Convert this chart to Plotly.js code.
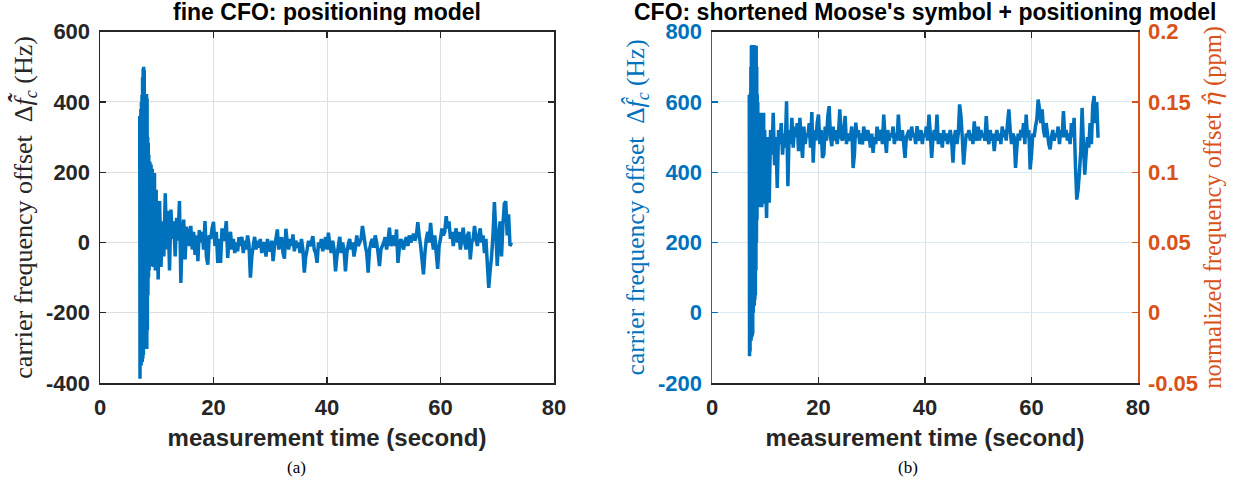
<!DOCTYPE html>
<html>
<head>
<meta charset="utf-8">
<script src="https://cdn.plot.ly/plotly-3.0.1.min.js"></script>
<style>html,body{margin:0;padding:0;background:#fff;}#chart{width:1236px;height:486px;}</style>
</head>
<body>
<div id="chart"></div>
<script>
// measurement time (s): dense start-up burst, then main record
const timeBurst = [7.00,7.05,7.10,7.15,7.20,7.25,7.30,7.35,7.40,7.45,7.50,7.55,7.60,7.65,7.70,7.75,7.80,7.85,7.90,7.95,
  8.00,8.05,8.10,8.15,8.20,8.25,8.30,8.35,8.40,8.45,8.50,8.55,8.60,8.65,8.70,8.75,8.80,8.85,8.90,8.95,
  9.00,9.05,9.10,9.15,9.20,9.25,9.30,9.35,9.40,9.45,9.50,9.55,9.60,9.65,9.70,9.75,9.80,9.85,9.90,9.95];
const timeMain = [
  10,10.25,10.5,10.75, 11,11.25,11.5,11.75, 12,12.25,12.5,12.75, 13,13.25,13.5,13.75,
  14,14.25,14.5,14.75, 15,15.25,15.5,15.75, 16,16.25,16.5,16.75, 17,17.25,17.5,17.75, 18,18.25,18.5,18.75,
  19,19.25,19.5,19.75, 20,20.25,20.5,20.75, 21,21.25,21.5,21.75, 22,22.25,22.5,22.75, 23,23.25,23.5,23.75,
  24,24.25,24.5,24.75, 25,25.25,25.5,25.75, 26,26.25,26.5,26.75, 27,27.25,27.5,27.75, 28,28.25,28.5,28.75,
  29,29.25,29.5,29.75, 30,30.25,30.5,30.75, 31,31.25,31.5,31.75, 32,32.25,32.5,32.75, 33,33.25,33.5,33.75,
  34,34.25,34.5,34.75, 35,35.25,35.5,35.75, 36,36.25,36.5,36.75, 37,37.25,37.5,37.75, 38,38.25,38.5,38.75,
  39,39.25,39.5,39.75, 40,40.25,40.5,40.75, 41,41.25,41.5,41.75, 42,42.25,42.5,42.75, 43,43.25,43.5,43.75,
  44,44.25,44.5,44.75, 45,45.25,45.5,45.75, 46,46.25,46.5,46.75, 47,47.25,47.5,47.75, 48,48.25,48.5,48.75,
  49,49.25,49.5,49.75, 50,50.25,50.5,50.75, 51,51.25,51.5,51.75, 52,52.25,52.5,52.75, 53,53.25,53.5,53.75,
  54,54.25,54.5,54.75, 55,55.25,55.5,55.75, 56,56.25,56.5,56.75, 57,57.25,57.5,57.75, 58,58.25,58.5,58.75,
  59,59.25,59.5,59.75, 60,60.25,60.5,60.75, 61,61.25,61.5,61.75, 62,62.25,62.5,62.75, 63,63.25,63.5,63.75,
  64,64.25,64.5,64.75, 65,65.25,65.5,65.75, 66,66.25,66.5,66.75, 67,67.25,67.5,67.75, 68,68.25,68.5,68.75,
  69,69.25,69.5,69.75, 70,70.25,70.5,70.75, 71,71.25,71.5,71.75, 72,72.25,72.5];

// (a) fine CFO, positioning model (Hz)
const fineCfoBurst = [360,-388,350,-330,380,-350,400,-320,420,-340,470,-330,495,-320,500,-300,490,-290,400,-250,
  380,-200,420,-300,423,-303,410,-250,300,-150,284,-100,250,-80,200,-70,230,-40,180,-60,
  222,-67,200,-40,210,-60,180,-30,190,-70,160,-50,198,-20,140,-80,120,-40,150,-60];
const fineCfoMain = [
  110,-105,118,-70, 60,-40,140,-20, 90,-80,94,10, 60,-40,70,5,
  118,-115,30,65, -48,45,20,-10, 47,-20,30,-35, 20,-53,35,0, 30,-20,61,-40,
  -63,20,10,40, 59,-10,30,-58, 10,-58,40,5, 20,61,-44,10, 30,-20,10,-30,
  0,-25,15,-10, 16,-30,5,-20, 20,-5,-100,-40, -10,16,-20,5, -15,10,-30,-5,
  0,-40,10,-20, -25,5,-53,-10, 10,37,-20,0, 15,-30,-46,39, 0,-20,10,-10,
  23,-25,5,-15, 0,-30,10,-20, -86,-40,-20,5, -10,0,18,-20, -30,-58,0,-15,
  10,-25,-5,15, -20,28,-10,-30, 5,-20,-82,-40, -10,16,-30,0, -20,-82,-30,-5,
  10,-20,0,-40, -15,20,-10,0, 10,47,20,-10, -30,-86,-20,0, 10,-15,20,0,
  -30,-67,-20,-10, 0,15,-20,5, 42,-10,0,20, -10,37,-58,-15, 10,-5,-20,5,
  15,-10,20,0, 10,25,5,20, 58,20,-10,-50, -91,-30,10,30, 0,56,10,-20,
  20,-30,-75,-10, 10,40,20,30, 75,40,60,10, 30,-10,20,40, 0,30,-20,10,
  42,0,-20,20, 30,-48,0,10, 47,10,-10,20, 40,0,20,-30, 10,-60,-129,-80,
  -40,20,115,30, -67,20,60,-40, 50,110,117,20, 80,-10,0];

// (b) CFO, shortened Moose's symbol + positioning model (Hz)
const shortCfoBurst = [620,-124,600,-110,625,-60,700,-80,760,-70,762,-67,750,-60,760,0,740,40,762,20,
  700,37,760,50,740,120,760,200,700,265,621,300,600,320,560,300,540,330,500,310,
  560,300,540,320,569,350,520,300,550,330,500,310,540,360,569,340,500,380,520,350];
const shortCfoMain = [
  400,270,500,313, 520,450,569,420, 500,355,520,480, 540,450,510,470,
  602,360,520,480, 555,470,530,500, 540,460,555,490, 441,530,480,510, 500,540,470,571,
  427,520,490,540, 564,480,520,441, 450,530,490,560, 588,500,474,530, 490,520,480,510,
  579,500,490,520, 560,480,510,490, 500,530,412,450, 541,500,520,480, 510,479,530,500,
  490,520,500,470, 510,455,500,480, 530,490,510,520, 480,564,500,455, 520,490,510,500,
  530,480,510,490, 564,500,490,520, 480,441,500,510, 520,490,530,500, 510,480,531,500,
  490,520,480,510, 500,530,490,564, 510,441,500,520, 490,564,480,510, 500,470,520,490,
  510,480,500,520, 490,427,500,520, 480,510,593,560, 500,422,470,510, 500,520,490,510,
  480,545,500,490, 530,490,520,500, 510,490,560,500, 480,520,490,510, 460,500,520,490,
  510,480,530,500, 520,490,540,579, 520,480,510,500, 412,470,510,490, 520,500,540,480,
  564,500,520,408, 450,510,500,530, 550,607,580,540, 579,520,500,540, 510,480,465,500,
  520,490,510,500, 530,480,520,500, 574,500,520,490, 510,480,540,500, 555,420,322,350,
  400,460,583,480, 393,450,500,470, 540,480,590,617, 540,600,498];

const xTickVals = [0,20,40,60,80];
const xTickText = ['0','20','40','60','80'];
const yTickValsA = [-400,-200,0,200,400,600];
const yTickTextA = ['-400','-200','0','200','400','600'];
const yTickValsB = [-200,0,200,400,600,800];
const yTickTextB = ['-200','0','200','400','600','800'];
const yTickValsEta = [-0.05,0,0.05,0.1,0.15,0.2];
const yTickTextEta = ['-0.05','0','0.05','0.1','0.15','0.2'];

const BLUE = '#0072BD', ORANGE = '#D95319', AX = '#262626';
const SANS = 'Liberation Sans, Arial, sans-serif';
const SERIF = 'Liberation Serif, Times New Roman, serif';
const tickFont = (c) => ({family: SANS, size: 22, weight: 'bold', color: c});

const tAll = timeBurst.concat(timeMain);
const traces = [
  {x: tAll, y: fineCfoBurst.concat(fineCfoMain), type: 'scatter', mode: 'lines',
   line: {color: BLUE, width: 3.5, simplify: false}, xaxis: 'x', yaxis: 'y', showlegend: false, hoverinfo: 'skip'},
  {x: tAll, y: shortCfoBurst.concat(shortCfoMain), type: 'scatter', mode: 'lines',
   line: {color: BLUE, width: 3.5, simplify: false}, xaxis: 'x2', yaxis: 'y2', showlegend: false, hoverinfo: 'skip'},
  {x: [], y: [], type: 'scatter', mode: 'lines', xaxis: 'x2', yaxis: 'y3', showlegend: false, hoverinfo: 'skip'}
];

const yDom = [1 - 383/486, 1 - 31.7/486];
function xAxis(domain, anchor) {
  return {domain: domain, anchor: anchor, range: [0, 80], tickmode: 'array', tickvals: xTickVals, ticktext: xTickText,
    ticks: 'inside', ticklen: 6, tickwidth: 1.2, tickcolor: AX, showline: true, linecolor: AX, linewidth: 1.5,
    mirror: 'ticks', showgrid: true, gridcolor: '#dfdfdf', gridwidth: 1, zeroline: false,
    tickfont: tickFont(AX), ticklabelstandoff: 4,
    title: {text: 'measurement time (second)', font: {family: SANS, size: 24, weight: 'bold', color: AX}, standoff: 10}};
}
const DJ = '<span style="font-family:DejaVu Serif">';

const layout = {
  width: 1236, height: 486, margin: {l: 0, r: 0, t: 0, b: 0},
  paper_bgcolor: '#fff', plot_bgcolor: '#fff', showlegend: false,
  xaxis: xAxis([100/1236, 554/1236], 'y'),
  xaxis2: xAxis([712/1236, 1138/1236], 'y2'),
  yaxis: {domain: yDom, anchor: 'x', range: [-400, 600], tickmode: 'array', tickvals: yTickValsA, ticktext: yTickTextA,
    ticks: 'inside', ticklen: 6, tickwidth: 1.2, tickcolor: AX, showline: true, linecolor: AX, linewidth: 1.5,
    mirror: 'ticks', showgrid: true, gridcolor: '#dfdfdf', gridwidth: 1, zeroline: false,
    tickfont: tickFont(AX), ticklabelstandoff: 4,
    title: {text: 'carrier frequency offset  Δ<i>f\u0303\u0302</i><sub><i>c</i></sub> (Hz)', font: {family: SERIF, size: 26, color: AX}, standoff: 6}},
  yaxis2: {domain: yDom, anchor: 'x2', range: [-200, 800], tickmode: 'array', tickvals: yTickValsB, ticktext: yTickTextB,
    ticks: 'inside', ticklen: 6, tickwidth: 1.2, tickcolor: BLUE, showline: true, linecolor: BLUE, linewidth: 1.5,
    mirror: false, showgrid: true, gridcolor: '#d9eaf5', gridwidth: 1, zeroline: false,
    tickfont: tickFont(BLUE), ticklabelstandoff: 4,
    title: {text: 'carrier frequency offset  Δ<i>f\u0302</i><sub><i>c</i></sub> (Hz)', font: {family: SERIF, size: 25.5, color: BLUE}, standoff: 6}},
  yaxis3: {overlaying: 'y2', anchor: 'x2', side: 'right', range: [-0.05, 0.2], tickmode: 'array', tickvals: yTickValsEta, ticktext: yTickTextEta,
    ticks: 'inside', ticklen: 6, tickwidth: 1.2, tickcolor: ORANGE, showline: true, linecolor: ORANGE, linewidth: 1.5,
    showgrid: false, zeroline: false, tickfont: tickFont(ORANGE), ticklabelstandoff: 4,
    title: {text: 'normalized frequency offset ' + DJ + '<i>η\u0302</i></span> (ppm)', font: {family: SERIF, size: 24.5, color: ORANGE}, standoff: 6}},
  annotations: [
    {text: 'fine CFO: positioning model', xref: 'paper', yref: 'paper', x: 327/1236, y: 1 - 12.5/486, xanchor: 'center', yanchor: 'middle',
     showarrow: false, font: {family: SANS, size: 23, weight: 'bold', color: '#000'}},
    {text: "CFO: shortened Moose's symbol + positioning model", xref: 'paper', yref: 'paper', x: 925/1236, y: 1 - 12.5/486, xanchor: 'center', yanchor: 'middle',
     showarrow: false, font: {family: SANS, size: 23, weight: 'bold', color: '#000'}},
    {text: '(a)', xref: 'paper', yref: 'paper', x: 296/1236, y: 1 - 467/486, xanchor: 'center', yanchor: 'middle',
     showarrow: false, font: {family: SERIF, size: 17, color: '#000'}},
    {text: '(b)', xref: 'paper', yref: 'paper', x: 908/1236, y: 1 - 467/486, xanchor: 'center', yanchor: 'middle',
     showarrow: false, font: {family: SERIF, size: 17, color: '#000'}}
  ]
};

Plotly.newPlot('chart', traces, layout, {displayModeBar: false, staticPlot: true});
</script>
</body>
</html>
